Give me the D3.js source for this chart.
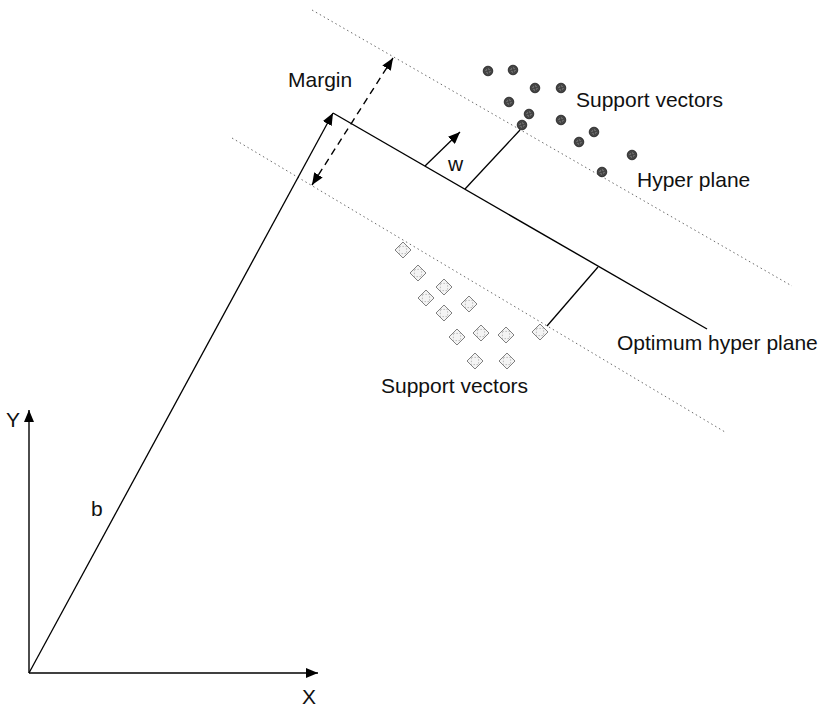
<!DOCTYPE html>
<html>
<head>
<meta charset="utf-8">
<script src="https://cdn.jsdelivr.net/npm/d3@7"></script>
<style>
html,body{margin:0;padding:0;background:#fff;}
svg{display:block;}
text{font-family:"Liberation Sans",Arial,Helvetica,sans-serif;fill:#111;}
</style>
</head>
<body>
<svg id="chart" width="827" height="708"></svg>
<script>
// ---- data (diagram units: x to the right of origin, y above origin) ----
const classA = [ // dark circles (upper support vectors)
  [459,602],[484,603],[506,585],[532,585],[480,571],[500,559],
  [493,548],[532,553],[565,541],[550,531],[603,518],[573,501]
];
const classB = [ // light diamonds (lower support vectors)
  [374,423],[389,400],[415,386],[397,375],[415,360],[440,369],
  [428,336],[452,340],[477,338],[511,341],[446,312],[478,312]
];
const optimumPlane = [[304,560],[678,344]];
const upperPlane   = [[283,663],[763,387]];
const lowerPlane   = [[203,535],[696,241]];
const marginArrow  = [[283,488],[364,615]];
const wArrow       = [[396,507],[431,541]];
const bVector      = [[0,0],[304,560]];
const yAxisLine    = [[0,0],[0,263]];
const xAxisLine    = [[0,0],[289,0]];
const connectors   = [
  [[436,484],[491,543]],
  [[569,406],[518,347]]
];
const labels = [
  {t:"Margin", p:[259,586]},
  {t:"Support vectors", p:[547,566]},
  {t:"Hyper plane", p:[608,486]},
  {t:"Optimum hyper plane", p:[588,323]},
  {t:"Support vectors", p:[352,280]},
  {t:"w", p:[419,502]},
  {t:"b", p:[62,157]},
  {t:"Y", p:[-23,246]},
  {t:"X", p:[273,-31]}
];

// ---- scales ----
const x = d3.scaleLinear().domain([0,798]).range([29,827]);
const y = d3.scaleLinear().domain([0,673]).range([673,0]);

const svg = d3.select("#chart");
const defs = svg.append("defs");
defs.append("marker")
  .attr("id","arrow").attr("viewBox","0 0 12 10")
  .attr("refX",12).attr("refY",5)
  .attr("markerWidth",12).attr("markerHeight",10)
  .attr("markerUnits","userSpaceOnUse")
  .attr("orient","auto-start-reverse")
  .append("path").attr("d","M0,0 L12,5 L0,10 Z").attr("fill","#000");

const line = d3.line().x(d=>x(d[0])).y(d=>y(d[1]));

// dotted hyper planes
[upperPlane, lowerPlane].forEach(seg=>{
  svg.append("path").attr("d",line(seg))
    .attr("fill","none").attr("stroke","#6a6a6a").attr("stroke-width",1)
    .attr("stroke-dasharray","1.5,3");
});

// optimum hyper plane
svg.append("path").attr("d",line(optimumPlane))
  .attr("fill","none").attr("stroke","#000").attr("stroke-width",1.4);

// connectors
connectors.forEach(seg=>{
  svg.append("path").attr("d",line(seg))
    .attr("fill","none").attr("stroke","#000").attr("stroke-width",1.3);
});

// margin dashed double arrow
svg.append("path").attr("d",line(marginArrow))
  .attr("fill","none").attr("stroke","#000").attr("stroke-width",1.4)
  .attr("stroke-dasharray","7,5")
  .attr("marker-start","url(#arrow)").attr("marker-end","url(#arrow)");

// w arrow
svg.append("path").attr("d",line(wArrow))
  .attr("fill","none").attr("stroke","#000").attr("stroke-width",1.3)
  .attr("marker-end","url(#arrow)");

// b vector
svg.append("path").attr("d",line(bVector))
  .attr("fill","none").attr("stroke","#000").attr("stroke-width",1.3)
  .attr("marker-end","url(#arrow)");

// axes
[yAxisLine, xAxisLine].forEach(seg=>{
  svg.append("path").attr("d",line(seg))
    .attr("fill","none").attr("stroke","#000").attr("stroke-width",1.4)
    .attr("marker-end","url(#arrow)");
});

// circles
const cg = svg.append("g");
cg.selectAll("circle.a").data(classA).join("circle")
  .attr("class","a")
  .attr("cx",d=>x(d[0])).attr("cy",d=>y(d[1])).attr("r",4.8)
  .attr("fill","#454545").attr("stroke","#1a1a1a").attr("stroke-width",0.8);
cg.selectAll("circle.ai").data(classA).join("circle")
  .attr("class","ai")
  .attr("cx",d=>x(d[0])).attr("cy",d=>y(d[1])).attr("r",2.1)
  .attr("fill","none").attr("stroke","#aaa").attr("stroke-width",0.7)
  .attr("stroke-dasharray","1.5,1.5");

// diamonds
const dg = svg.append("g");
const s = 8;
dg.selectAll("path.b").data(classB).join("path")
  .attr("class","b")
  .attr("d",d=>{const cx=x(d[0]),cy=y(d[1]);
    return `M${cx},${cy-s}L${cx+s},${cy}L${cx},${cy+s}L${cx-s},${cy}Z`;})
  .attr("fill","#f4f4f4").attr("stroke","#808080").attr("stroke-width",1);
dg.selectAll("path.bi").data(classB).join("path")
  .attr("class","bi")
  .attr("d",d=>{const cx=x(d[0]),cy=y(d[1]),t=3.6;
    return `M${cx-t},${cy-t}L${cx+t},${cy-t}L${cx+t},${cy+t}L${cx-t},${cy+t}Z`;})
  .attr("fill","none").attr("stroke","#a5a5a5").attr("stroke-width",0.7)
  .attr("stroke-dasharray","1.5,1.5");

// labels
svg.selectAll("text.lbl").data(labels).join("text")
  .attr("class","lbl")
  .attr("x",d=>x(d.p[0])).attr("y",d=>y(d.p[1]))
  .attr("font-size",21)
  .text(d=>d.t);
</script>
</body>
</html>
